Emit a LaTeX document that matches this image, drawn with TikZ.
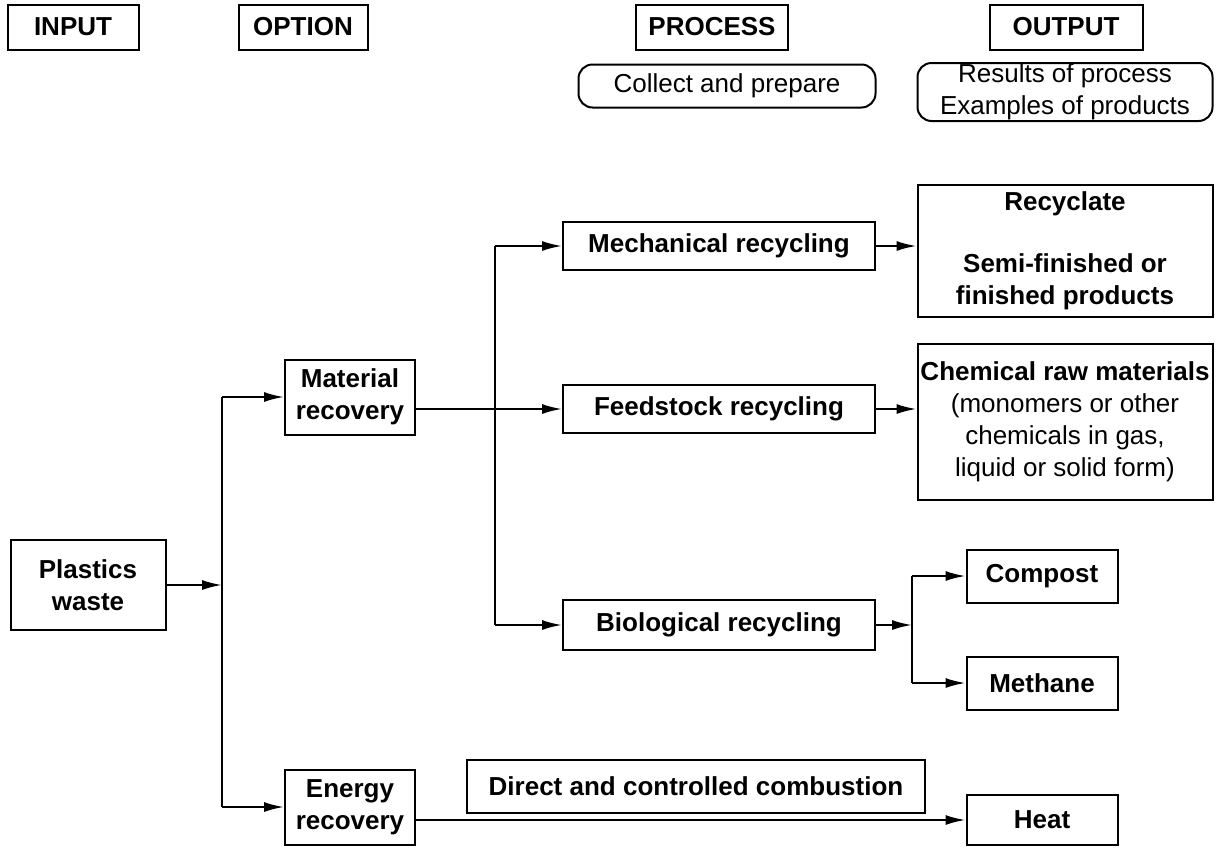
\documentclass[tikz,border=0pt]{standalone}
\usepackage{fontspec}
\setmainfont{Liberation Sans}
\usetikzlibrary{arrows.meta,positioning}

\tikzset{
  box/.style={draw, line width=1pt, align=center, inner sep=0pt,
    font=\fontsize{13}{16}\selectfont\bfseries},
  soft/.style={box, rounded corners=7pt, font=\fontsize{13}{16}\selectfont},
  head/.style={box, minimum height=22.5pt},
  procbox/.style={box, minimum width=156pt, minimum height=24pt},
  optbox/.style={box, minimum width=65pt, minimum height=37.5pt},
  prodbox/.style={box, minimum width=75.5pt, minimum height=26.5pt},
  resbox/.style={box, minimum width=147.5pt},
  line/.style={line width=1pt},
  >={Latex[length=10pt,width=5pt]}
}

\begin{document}
\begin{tikzpicture}[x=0.5pt,y=-0.5pt]
\useasboundingbox (0,0) rectangle (1227,868);
%column heads
\node[head, minimum width=65.5pt] (input) at (73,27) {INPUT};
\node[head, minimum width=64.5pt] (option) at (303,27) {OPTION};
\node[head, minimum width=76pt] (process) at (712,27) {PROCESS};
\node[head, minimum width=76.5pt] (output) at (1066,27) {OUTPUT};
\node[soft, minimum width=148.5pt, minimum height=21.5pt] (collect) at (727,86) {Collect and prepare};
\node[soft, minimum width=147.5pt, minimum height=29pt] (results) at (1065,92) {Results of process\\Examples of products};
%input and options
\node[box, minimum width=77.5pt, minimum height=45pt] (waste) at (88,585) {Plastics\\waste};
\node[optbox] (matrec) at (350,397) {Material\\recovery};
\node[optbox] (enrec) at (350,807) {Energy\\recovery};
%processes
\node[procbox] (mech) at (719,246) {Mechanical recycling};
\node[procbox] (feed) at (719,409) {Feedstock recycling};
\node[procbox, minimum height=25pt] (bio) at (719,625) {Biological recycling};
\node[box, minimum width=229pt, minimum height=26.5pt] (comb) at (696,786) {Direct and controlled combustion};
%outputs
\node[resbox, minimum height=66pt] (recy) at (1065,251) {Recyclate\\[15pt]Semi-finished or\\finished products};
\node[resbox, minimum height=78pt] (chem) at (1065,422) {Chemical raw materials\\\mdseries (monomers or other\\\mdseries chemicals in gas,\\\mdseries liquid or solid form)};
\node[prodbox] (compost) at (1042,576) {Compost};
\node[prodbox] (methane) at (1042,683) {Methane};
\node[prodbox, minimum height=25pt] (heat) at (1042,820) {Heat};
%branch points
\coordinate (jw) at (222,585);
\coordinate (jm) at (495,409);
\coordinate (jb) at (912,625);
%connectors from waste
\draw[line,->] (waste) -- (jw);
\draw[line] (jw |- matrec) -- (jw |- enrec);
\draw[line,->] (jw |- matrec) -- (matrec);
\draw[line,->] (jw |- enrec) -- (enrec);
%connectors from material recovery
\draw[line] (matrec.east |- jm) -- (jm);
\draw[line] (jm |- mech) -- (jm |- bio);
\draw[line,->] (jm |- mech) -- (mech);
\draw[line,->] (jm) -- (feed);
\draw[line,->] (jm |- bio) -- (bio);
%connectors to outputs
\draw[line,->] (mech.east) -- (mech.east -| recy.west);
\draw[line,->] (feed.east) -- (feed.east -| chem.west);
\draw[line,->] (bio) -- (jb);
\draw[line] (jb |- compost) -- (jb |- methane);
\draw[line,->] (jb |- compost) -- (compost);
\draw[line,->] (jb |- methane) -- (methane);
\draw[line,->] (enrec.east |- heat) -- (heat);
\end{tikzpicture}
\end{document}
